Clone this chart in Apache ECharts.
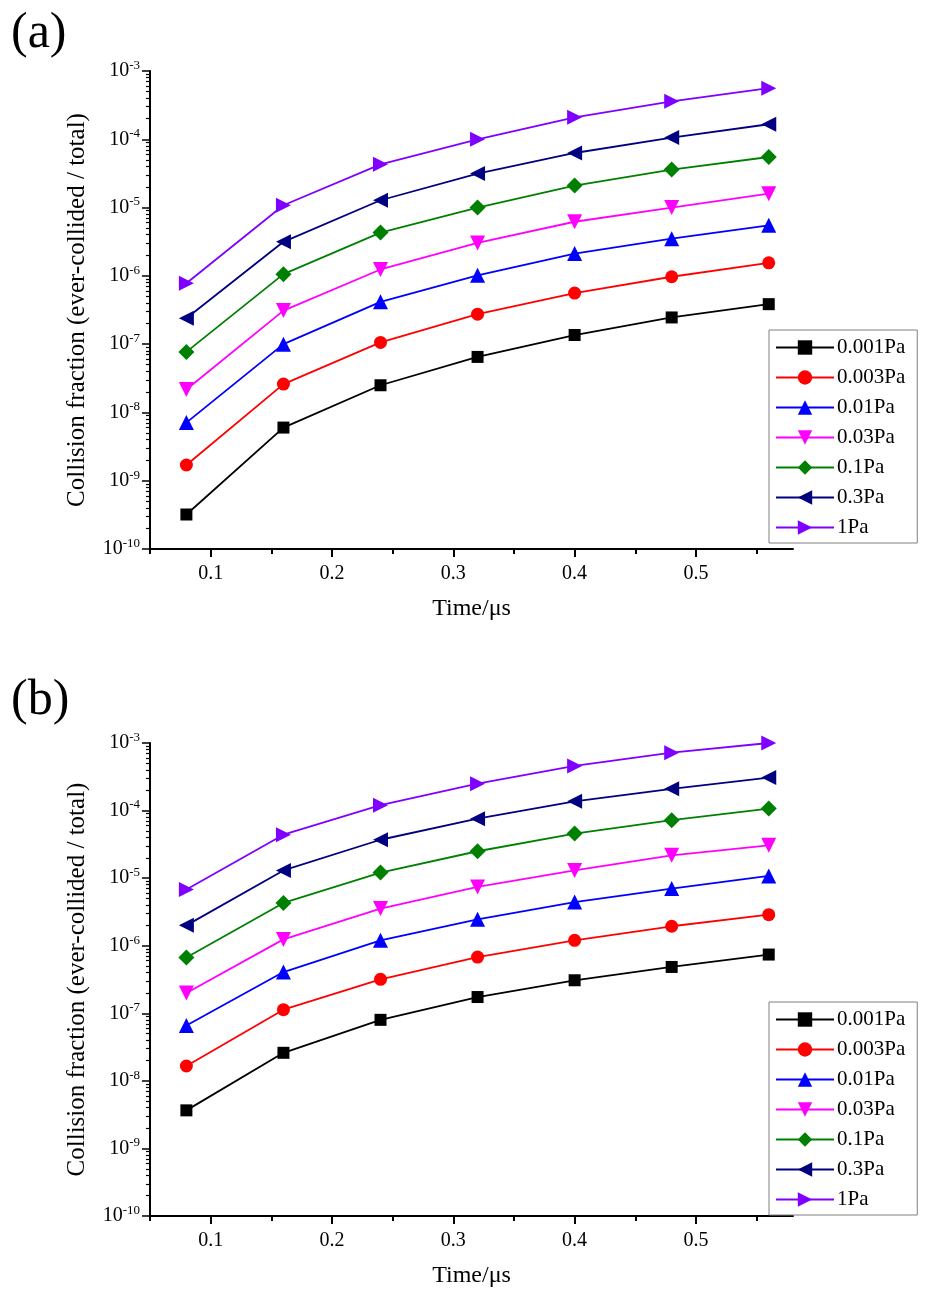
<!DOCTYPE html>
<html>
<head>
<meta charset="utf-8">
<script src="https://cdn.jsdelivr.net/npm/echarts@6/dist/echarts.min.js"></script>
<style>
  html, body { margin: 0; padding: 0; background: #fff; }
  #main { width: 931px; height: 1300px; }
</style>
</head>
<body>
<div id="main"></div>
<script>
// time points (µs)
const times = [0.08, 0.16, 0.24, 0.32, 0.40, 0.48, 0.56];
const names = ['0.001Pa', '0.003Pa', '0.01Pa', '0.03Pa', '0.1Pa', '0.3Pa', '1Pa'];

// panel (a) values
const a0001 = [3.2e-10, 6.0e-9, 2.5e-8, 6.5e-8, 1.36e-7, 2.46e-7, 3.85e-7];
const a0003 = [1.7e-9, 2.6e-8, 1.06e-7, 2.75e-7, 5.6e-7, 9.7e-7, 1.55e-6];
const a001 = [7.1e-9, 1.0e-7, 4.16e-7, 1.02e-6, 2.12e-6, 3.5e-6, 5.5e-6];
const a003 = [2.17e-8, 3.1e-7, 1.24e-6, 3.04e-6, 6.2e-6, 1.0e-5, 1.6e-5];
const a01 = [7.7e-8, 1.06e-6, 4.3e-6, 1.0e-5, 2.1e-5, 3.6e-5, 5.5e-5];
const a03 = [2.4e-7, 3.15e-6, 1.28e-5, 3.15e-5, 6.3e-5, 1.06e-4, 1.66e-4];
const a1 = [7.8e-7, 1.08e-5, 4.3e-5, 1.0e-4, 2.1e-4, 3.6e-4, 5.6e-4];

// panel (b) values
const b0001 = [3.66e-9, 2.6e-8, 8.0e-8, 1.74e-7, 3.08e-7, 4.85e-7, 7.4e-7];
const b0003 = [1.66e-8, 1.13e-7, 3.18e-7, 6.8e-7, 1.2e-6, 1.94e-6, 2.88e-6];
const b001 = [6.6e-8, 4.08e-7, 1.2e-6, 2.46e-6, 4.43e-6, 7.0e-6, 1.08e-5];
const b003 = [2.0e-7, 1.24e-6, 3.54e-6, 7.4e-6, 1.3e-5, 2.18e-5, 3.06e-5];
const b01 = [6.7e-7, 4.3e-6, 1.21e-5, 2.5e-5, 4.56e-5, 7.2e-5, 1.07e-4];
const b03 = [2.0e-6, 1.3e-5, 3.7e-5, 7.6e-5, 1.37e-4, 2.1e-4, 3.08e-4];
const b1 = [6.8e-6, 4.4e-5, 1.2e-4, 2.5e-4, 4.57e-4, 7.2e-4, 1.0e-3];

// tick values
const xMajor = [0.1, 0.2, 0.3, 0.4, 0.5];
const xMinor = [0.05, 0.15, 0.25, 0.35, 0.45, 0.55];
const yMajor = [1e-10, 1e-9, 1e-8, 1e-7, 1e-6, 1e-5, 1e-4, 1e-3];
const yMinor = [];
for (let e = -10; e < -3; e++) {
  for (let m = 2; m <= 9; m++) yMinor.push(m * Math.pow(10, e));
}

const panelA = [a0001, a0003, a001, a003, a01, a03, a1];
const panelB = [b0001, b0003, b001, b003, b01, b03, b1];

const colors = ['#000000', '#ff0000', '#0000ff', '#ff00ff', '#008000', '#000080', '#8000ff'];
const symbols = [
  'rect',
  'circle',
  'triangle',
  'path://M0,0 L10,0 L5,9 Z',
  'diamond',
  'path://M9,0 L9,10 L0,5 Z',
  'path://M0,0 L9,5 L0,10 Z',
];
const symbolSizes = [12, 13, 15, 15, 16, 15, 15];

const font = '"Liberation Serif", "Times New Roman", serif';

const grids = [
  { left: 150, top: 71, width: 643, height: 478 },
  { left: 150, top: 743, width: 643, height: 473 },
];

const myChart = echarts.init(document.getElementById('main'));

const xAxes = [];
const yAxes = [];
grids.forEach((g, i) => {
  // main x axis
  xAxes.push({
    type: 'value',
    gridIndex: i,
    min: 0.05,
    max: 0.58,
    position: 'bottom',
    name: 'Time/μs',
    nameLocation: 'middle',
    nameGap: 48,
    nameTextStyle: { fontFamily: font, fontSize: 24, color: '#000' },
    axisLine: { show: true, lineStyle: { color: '#000', width: 2 } },
    axisTick: { show: true, customValues: xMajor, length: 8, lineStyle: { color: '#000', width: 2 } },
    axisLabel: {
      customValues: xMajor,
      margin: 15,
      fontFamily: font,
      fontSize: 20,
      color: '#000',
      formatter: (v) => v.toFixed(1),
    },
    splitLine: { show: false },
  });
  // minor ticks
  xAxes.push({
    type: 'value',
    gridIndex: i,
    min: 0.05,
    max: 0.58,
    position: 'bottom',
    axisLine: { show: false },
    axisTick: { show: true, customValues: xMinor, length: 5, lineStyle: { color: '#000', width: 2 } },
    axisLabel: { show: false },
    splitLine: { show: false },
  });
  yAxes.push({
    type: 'log',
    gridIndex: i,
    min: 1e-10,
    max: 1e-3,
    position: 'left',
    name: 'Collision fraction (ever-collided / total)',
    nameLocation: 'middle',
    nameGap: 60,
    nameTextStyle: { fontFamily: font, fontSize: 25, color: '#000' },
    axisLine: { show: true, lineStyle: { color: '#000', width: 2 } },
    axisTick: { show: true, customValues: yMajor, length: 8, lineStyle: { color: '#000', width: 1.5 } },
    axisLabel: {
      customValues: yMajor,
      margin: 10,
      formatter: (v) => '{b|10}{s|' + Math.round(Math.log10(v)) + '}',
      rich: {
        b: { fontFamily: font, fontSize: 20, color: '#000' },
        s: { fontFamily: font, fontSize: 13, color: '#000', padding: [0, 0, 11, 0] },
      },
    },
    splitLine: { show: false },
  });
  yAxes.push({
    type: 'log',
    gridIndex: i,
    min: 1e-10,
    max: 1e-3,
    position: 'left',
    offset: 0,
    axisLine: { show: false },
    axisTick: { show: true, customValues: yMinor, length: 4, lineStyle: { color: '#000', width: 1.2 } },
    axisLabel: { show: false },
    splitLine: { show: false },
  });
});

// create series array
const chartSeries = [];
[panelA, panelB].forEach((panel, p) => {
  panel.forEach((vals, i) => {
    chartSeries.push({
      name: names[i],
      type: 'line',
      xAxisIndex: p * 2,
      yAxisIndex: p * 2,
      data: vals.map((v, k) => [times[k], v]),
      symbol: symbols[i],
      symbolSize: symbolSizes[i],
      showAllSymbol: true,
      clip: false,
      color: colors[i],
      lineStyle: { width: 1.8, color: colors[i] },
      itemStyle: { color: colors[i] },
    });
  });
});

const legendBase = {
  orient: 'vertical',
  left: 769,
  data: names,
  itemWidth: 58,
  itemHeight: 18,
  itemGap: 9,
  padding: [7, 12, 5, 6],
  borderColor: '#808080',
  borderWidth: 1,
  selectedMode: false,
  textStyle: { fontFamily: font, fontSize: 21, color: '#000', lineHeight: 21, padding: [0, 0, 0, -2] },
};

const option = {
  animation: false,
  backgroundColor: '#fff',
  title: [
    { text: '(a)', left: 6, top: 4, textStyle: { fontFamily: font, fontSize: 50, fontWeight: 'normal', color: '#000' } },
    { text: '(b)', left: 6, top: 671, textStyle: { fontFamily: font, fontSize: 50, fontWeight: 'normal', color: '#000' } },
  ],
  grid: grids,
  legend: [
    Object.assign({}, legendBase, { top: 330 }),
    Object.assign({}, legendBase, { top: 1002 }),
  ],
  xAxis: xAxes,
  yAxis: yAxes,
  series: chartSeries,
};

myChart.setOption(option);
</script>
</body>
</html>
